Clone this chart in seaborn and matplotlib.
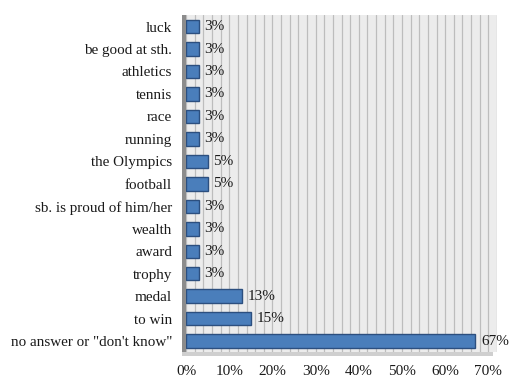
import numpy as np
import pandas as pd
import matplotlib.pyplot as plt
import matplotlib.patches as mpatches
import seaborn as sns

# Data (top to bottom)
categories = ["luck", "be good at sth.", "athletics", "tennis", "race", "running",
              "the Olympics", "football", "sb. is proud of him/her", "wealth",
              "award", "trophy", "medal", "to win", 'no answer or "don\'t know"']
percent = [3, 3, 3, 3, 3, 3, 5, 5, 3, 3, 3, 3, 13, 15, 67]
xticks = [0, 10, 20, 30, 40, 50, 60, 70]

df = pd.DataFrame({"answer": categories, "pct": percent})

sns.set_style("white")
plt.rcParams["font.family"] = ["Liberation Serif", "DejaVu Serif"]

fig = plt.figure(figsize=(5.14, 3.83), dpi=100)
ax = fig.add_axes([0.362, 0.08, 0.605, 0.88])

# Wall background with fine vertical grid (every 2 %)
ax.set_facecolor("#ececec")
for spine in ax.spines.values():
    spine.set_visible(False)

sns.barplot(data=df, x="pct", y="answer", orient="h", ax=ax,
            color="#4a7ebb", width=0.6, edgecolor="#2c4f7f", linewidth=1.0,
            saturation=1, zorder=3)

ax.set_xlim(0, 72)
ax.set_ylim(14.5, -0.5)
ax.set_xticks(xticks)
ax.set_xticklabels([f"{v}%" for v in xticks], fontsize=11)
ax.set_xticks(np.arange(0, 73, 2), minor=True)
ax.grid(axis="x", which="both", color="#bdbdbd", linewidth=0.9, zorder=0)
ax.set_axisbelow(True)

ax.set_yticks(range(len(categories)))
ax.set_yticklabels(categories, fontsize=10.9, color="#1a1a1a")
ax.set_yticks(np.arange(-0.5, len(categories), 1), minor=True)
ax.tick_params(axis="y", which="major", length=0, pad=10)
ax.tick_params(axis="y", which="minor", length=4, color="#888888", width=0.8)
ax.tick_params(axis="x", which="major", length=4, color="#888888", width=0.8,
               pad=5, labelcolor="#1a1a1a")
ax.tick_params(axis="x", which="minor", length=0)
ax.set_xlabel("")
ax.set_ylabel("")

# Bar value labels
for cont in ax.containers:
    ax.bar_label(cont, labels=[f"{v}%" for v in percent], padding=4,
                 fontsize=11, color="#1a1a1a")

# Pseudo-3D side wall and floor
ax.add_patch(mpatches.Rectangle((-0.012, 0.0), 0.012, 1.0, transform=ax.transAxes,
                                facecolor="#8c8c8c", edgecolor="none",
                                clip_on=False, zorder=1))
ax.add_patch(mpatches.Rectangle((-0.012, -0.012), 1.0, 0.014, transform=ax.transAxes,
                                facecolor="#cfcfcf", edgecolor="none",
                                clip_on=False, zorder=1))

fig.savefig("out.png", dpi=100)
